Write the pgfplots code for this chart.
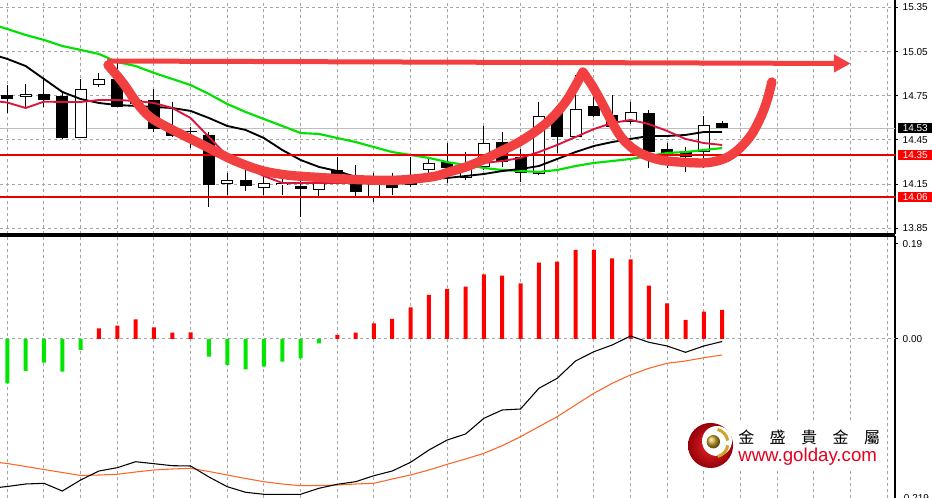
\documentclass[border=0pt]{standalone}
\usepackage{fontspec}
\setmainfont{Liberation Sans}
\newfontfamily\cjk{Noto Sans CJK TC}
\usepackage{pgfplots}
\usepackage{pgfplotstable}
\pgfplotsset{compat=1.18}
\usetikzlibrary{arrows.meta}

\definecolor{maGreen}{RGB}{0,225,0}
\definecolor{maCrimson}{RGB}{220,20,60}
\definecolor{lineRed}{RGB}{235,0,0}
\definecolor{penRed}{RGB}{242,64,64}
\definecolor{gridGray}{RGB}{165,165,165}
\definecolor{histGreen}{RGB}{0,230,0}
\definecolor{histRed}{RGB}{255,0,0}
\definecolor{sigOrange}{RGB}{255,100,40}
\definecolor{priceGray}{RGB}{190,190,190}
\definecolor{logoIn}{RGB}{235,40,40}
\definecolor{logoOut}{RGB}{150,0,10}
\definecolor{goldC}{RGB}{205,165,40}
\definecolor{goldayRed}{RGB}{230,0,30}

\newcommand\tickfont{\fontsize{7.5pt}{9pt}\selectfont}

% candles: i high bodytop bodybottom low
\pgfplotstableread{
i  hi     top    bot    lo
0  14.823 14.755 14.728 14.633
2  14.864 14.760 14.721 14.674
3  14.769 14.751 14.465 14.457
6  14.971 14.862 14.676 14.672
7  14.742 14.721 14.694 14.667
8  14.794 14.721 14.524 14.502
9  14.710 14.518 14.479 14.472
10 14.540 14.514 14.501 14.393
11 14.502 14.484 14.144 13.997
13 14.246 14.178 14.140 14.106
16 14.226 14.137 14.115 13.929
18 14.334 14.246 14.199 14.158
19 14.280 14.160 14.099 14.054
21 14.228 14.160 14.122 14.076
22 14.334 14.205 14.144 14.131
24 14.427 14.302 14.258 14.156
27 14.506 14.438 14.302 14.269
28 14.387 14.336 14.224 14.167
30 14.667 14.642 14.468 14.360
32 14.755 14.681 14.613 14.606
33 14.755 14.620 14.540 14.518
35 14.653 14.635 14.370 14.258
36 14.427 14.387 14.355 14.258
37 14.404 14.370 14.336 14.235
39 14.581 14.567 14.533 14.528
}\bear

\pgfplotstableread{
i  hi     top    bot    lo
1  14.830 14.760 14.744 14.674
4  14.864 14.794 14.465 14.460
5  14.907 14.862 14.823 14.812
12 14.228 14.178 14.151 14.076
14 14.226 14.156 14.122 14.076
15 14.192 14.161 14.144 14.076
17 14.226 14.158 14.110 14.056
20 14.226 14.151 14.056 14.031
23 14.326 14.296 14.246 14.224
25 14.368 14.273 14.192 14.178
26 14.545 14.427 14.269 14.246
29 14.710 14.613 14.219 14.212
31 14.891 14.658 14.472 14.467
34 14.710 14.642 14.574 14.558
38 14.613 14.552 14.370 14.258
}\bull

% moving averages: slow (green), medium (black), fast (crimson)
\pgfplotstableread{
i    g      k      c
-0.4 15.219 15.015 14.710
0    15.203 15.000 14.704
1    15.163 14.952 14.667
2    15.129 14.864 14.710
3    15.088 14.776 14.708
4    15.061 14.728 14.708
5    15.034 14.701 14.721
6    14.979 14.687 14.721
7    14.952 14.681 14.715
8    14.905 14.674 14.701
9    14.864 14.667 14.667
10   14.823 14.647 14.599
11   14.762 14.599 14.470
12   14.694 14.545 14.341
13   14.640 14.518 14.267
14   14.592 14.463 14.205
15   14.545 14.382 14.158
16   14.497 14.314 14.158
17   14.491 14.267 14.158
18   14.463 14.239 14.158
19   14.436 14.199 14.158
20   14.402 14.178 14.158
21   14.368 14.178 14.165
22   14.348 14.178 14.178
23   14.328 14.185 14.205
24   14.300 14.192 14.239
25   14.280 14.205 14.267
26   14.260 14.219 14.294
27   14.246 14.239 14.307
28   14.239 14.253 14.328
29   14.233 14.273 14.368
30   14.246 14.321 14.416
31   14.273 14.368 14.470
32   14.294 14.409 14.524
33   14.307 14.436 14.565
34   14.321 14.457 14.586
35   14.341 14.477 14.558
36   14.362 14.477 14.511
37   14.368 14.484 14.457
38   14.382 14.504 14.429
39   14.395 14.504 14.416
}\ma

% MACD histogram
\pgfplotstableread{
i  h
0  -0.0886
1  -0.0640
2  -0.0474
3  -0.0654
4  -0.0220
5  0.0214
6  0.0266
7  0.0394
8  0.0234
9  0.0126
10 0.0134
11 -0.0354
12 -0.0520
13 -0.0606
14 -0.0554
15 -0.0454
16 -0.0386
17 -0.0086
18 0.0080
19 0.0126
20 0.0314
21 0.0400
22 0.0634
23 0.0880
24 0.1000
25 0.1046
26 0.1294
27 0.1266
28 0.1114
29 0.1526
30 0.1546
31 0.1780
32 0.1780
33 0.1614
34 0.1594
35 0.1066
36 0.0714
37 0.0380
38 0.0546
39 0.0580
}\histo

\pgfplotstableread{
i    macd    sig
-0.4 -0.2966 -0.2474
0    -0.2950 -0.2490
1    -0.2900 -0.2550
2    -0.2886 -0.2610
3    -0.3040 -0.2670
4    -0.2820 -0.2730
5    -0.2640 -0.2720
6    -0.2574 -0.2706
7    -0.2454 -0.2660
8    -0.2494 -0.2620
9    -0.2534 -0.2600
10   -0.2540 -0.2586
11   -0.2760 -0.2650
12   -0.2954 -0.2720
13   -0.3066 -0.2790
14   -0.3106 -0.2854
15   -0.3106 -0.2900
16   -0.3106 -0.2934
17   -0.2986 -0.2930
18   -0.2906 -0.2920
19   -0.2854 -0.2900
20   -0.2734 -0.2886
21   -0.2640 -0.2800
22   -0.2466 -0.2720
23   -0.2220 -0.2620
24   -0.2020 -0.2506
25   -0.1900 -0.2400
26   -0.1586 -0.2286
27   -0.1420 -0.2134
28   -0.1400 -0.1954
29   -0.0986 -0.1754
30   -0.0786 -0.1554
31   -0.0440 -0.1320
32   -0.0254 -0.1086
33   -0.0120 -0.0886
34   0.0060  -0.0720
35   -0.0066 -0.0586
36   -0.0140 -0.0486
37   -0.0266 -0.0440
38   -0.0140 -0.0374
39   -0.0050 -0.0320
}\macdlines

\pgfplotsset{
  mtpanel/.style={
    scale only axis, width=671.25pt,
    xmin=-0.4, xmax=48.43,
    axis y line*=right,
    axis line style={-, black, line width=0.9pt},
    xtick={0,2,...,48}, xticklabels={}, xtick style={draw=none},
    xmajorgrids,
    major grid style={gridGray, line width=0.75pt, dash pattern=on 2.25pt off 2.25pt},
    tick align=outside, major tick length=2.25pt,
    ytick style={black, line width=0.75pt},
    yticklabel style={font=\tickfont, text=black},
    /pgf/number format/fixed,
    /pgf/number format/fixed zerofill,
    /pgf/number format/precision=2,
    /pgf/number format/assume math mode=true,
    clip mode=individual,
  },
  candle/.style={draw=none, forget plot,
    error bars/.cd, y dir=minus, y explicit, error mark=none},
}

\begin{document}
\begin{tikzpicture}
\path[use as bounding box] (0pt,0pt) rectangle (699pt,-373.5pt);
\clip (0pt,0pt) rectangle (699pt,-373.5pt);

% ---------------- price panel ----------------
\begin{axis}[mtpanel, at={(0pt,0pt)}, anchor=north west, height=175.5pt,
  ymin=13.8116, ymax=15.4002, axis x line*=bottom,
  ytick={13.85,14.15,14.45,14.75,15.05,15.35}, ymajorgrids]

\addplot[priceGray, line width=0.75pt] coordinates {(-0.4,14.53) (48.43,14.53)};

% wicks
\addplot[candle, error bar style={draw=black, line width=0.75pt}]
  table[x=i, y=hi, y error minus expr=\thisrow{hi}-\thisrow{lo}] {\bear};
\addplot[candle, error bar style={draw=black, line width=0.75pt}]
  table[x=i, y=hi, y error minus expr=\thisrow{hi}-\thisrow{lo}] {\bull};
% bodies
\addplot[candle, error bar style={draw=black, line width=9pt}]
  table[x=i, y=top, y error minus expr=\thisrow{top}-\thisrow{bot}] {\bear};
\addplot[candle, error bar style={draw=black, line width=9pt}]
  table[x=i, y=top, y error minus expr=\thisrow{top}-\thisrow{bot}] {\bull};
\addplot[candle, error bar style={draw=white, line width=7.5pt}]
  table[x=i, y expr=\thisrow{top}-0.0068, y error minus expr=\thisrow{top}-\thisrow{bot}-0.0136] {\bull};

% moving averages
\addplot[maGreen, line width=1.6pt] table[x=i, y=g] {\ma};
\addplot[black, line width=1.4pt] table[x=i, y=k] {\ma};
\addplot[maCrimson, line width=1.4pt] table[x=i, y=c] {\ma};

% support lines
\addplot[lineRed, line width=1.6pt] coordinates {(-0.4,14.35) (48.43,14.35)};
\addplot[lineRed, line width=1.6pt] coordinates {(-0.4,14.06) (48.43,14.06)};

% hand drawn marks
\addplot[penRed, line width=3.75pt, -{Triangle[length=12.75pt, width=12.75pt]}]
  coordinates {(5.44,14.986) (46.02,14.969)};
\addplot[penRed, line width=7pt, line cap=round, line join=round, smooth, tension=0.55]
  coordinates {
  (5.49,14.959) (6.31,14.837) (7.07,14.701) (7.78,14.606) (8.71,14.538)
  (9.80,14.470) (10.89,14.402) (12.31,14.314) (13.78,14.246) (15.25,14.212)
  (17.06,14.195) (19.62,14.178) (21.42,14.178) (23.22,14.201) (24.15,14.235)
  (25.07,14.269) (25.95,14.314) (26.87,14.370) (27.80,14.427) (28.67,14.495)
  (29.60,14.586) (30.53,14.721) (31.40,14.911)};
\addplot[penRed, line width=7pt, line cap=round, line join=round, smooth, tension=0.55]
  coordinates {
  (31.40,14.911) (31.89,14.823) (32.44,14.701) (32.98,14.572) (33.53,14.463)
  (34.24,14.382) (35.06,14.334) (35.98,14.307) (37.78,14.294) (38.60,14.304)
  (39.31,14.334) (39.97,14.395) (40.62,14.490) (41.16,14.620) (41.49,14.735)
  (41.71,14.844)};

% price tags
\node[fill=black, text=white, font=\tickfont, anchor=west, inner sep=0pt,
  minimum height=7.5pt, minimum width=25.5pt, xshift=2.25pt]
  at (axis cs:48.43,14.53) {14.53};
\node[fill=histRed, text=white, font=\tickfont, anchor=west, inner sep=0pt,
  minimum height=7.5pt, minimum width=25.5pt, xshift=2.25pt]
  at (axis cs:48.43,14.35) {14.35};
\node[fill=histRed, text=white, font=\tickfont, anchor=west, inner sep=0pt,
  minimum height=7.5pt, minimum width=25.5pt, xshift=2.25pt]
  at (axis cs:48.43,14.06) {14.06};
\end{axis}

% ---------------- MACD panel ----------------
\begin{axis}[mtpanel, at={(0pt,-177pt)}, anchor=north west, height=196.5pt,
  ymin=-0.318, ymax=0.206, axis x line*=top,
  ytick={0,0.19}]

\addplot[gridGray, line width=0.75pt, dash pattern=on 2.25pt off 2.25pt]
  coordinates {(-0.4,0) (48.43,0)};
\addplot[ybar, bar width=3pt, bar shift=0pt, fill=histRed, draw=none,
  restrict y to domain=0:1] table[x=i, y=h] {\histo};
\addplot[ybar, bar width=3pt, bar shift=0pt, fill=histGreen, draw=none,
  restrict y to domain=-1:0] table[x=i, y=h] {\histo};
\addplot[sigOrange, line width=0.8pt] table[x=i, y=sig] {\macdlines};
\addplot[black, line width=0.8pt] table[x=i, y=macd] {\macdlines};

\node[font=\tickfont, anchor=north west, inner sep=0pt, xshift=4pt, yshift=2.5pt]
  at (axis cs:48.43,-0.318) {-0.219};
\end{axis}

% ---------------- watermark ----------------
\fill[white] (514.5pt,-315.75pt) rectangle (661.5pt,-351pt);
\shade[inner color=logoIn, outer color=logoOut] (532.9pt,-334.1pt) circle (16.9pt);
\fill[white] (537.75pt,-330.75pt) circle (11.25pt);
\draw[goldC, line width=2.25pt] ([shift={(10:10.5pt)}]535.5pt,-332.25pt)
  arc[start angle=10, end angle=75, radius=10.5pt];
\draw[goldC, line width=2.25pt] ([shift={(-75:10.5pt)}]535.5pt,-332.25pt)
  arc[start angle=-75, end angle=-10, radius=10.5pt];
\shade[ball color=goldC] (535pt,-331.3pt) circle (5pt);
\node[anchor=west, inner sep=0pt, font=\cjk\fontsize{12pt}{12pt}\selectfont]
  at (553.5pt,-328.1pt)
  {金\hspace{11.6pt}盛\hspace{11.6pt}貴\hspace{11.6pt}金\hspace{11.6pt}屬};
\node[anchor=base west, inner sep=0pt, text=goldayRed,
  font=\fontsize{14pt}{14pt}\selectfont]
  at (553.5pt,-346.3pt) {www.golday.com};
\end{tikzpicture}
\end{document}
